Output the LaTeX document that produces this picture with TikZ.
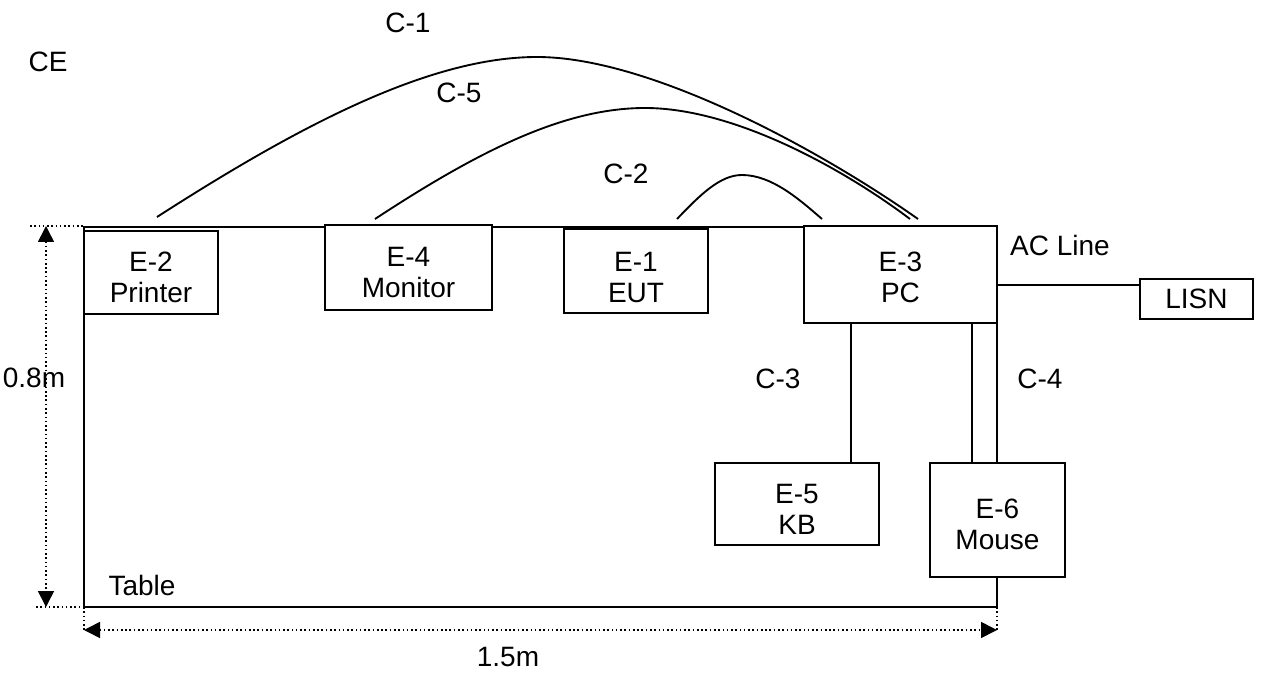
\documentclass[tikz,border=0pt]{standalone}
\usepackage{fontspec}
\setmainfont{Liberation Sans}
\usetikzlibrary{arrows.meta}
\begin{document}
\begin{tikzpicture}[x=0.75pt,y=-0.75pt,
  every node/.style={font=\fontsize{21}{23}\selectfont},
  ln/.style={line width=1.4pt},
  bx/.style 2 args={draw, line width=1.4pt, fill=white,
    minimum width=#1*0.75pt, minimum height=#2*0.75pt, inner sep=0pt},
  tx/.style={align=center, inner sep=0pt},
  lbl/.style={inner sep=0pt},
  dim/.style={dotted, line width=1.2pt},
  dimarrow/.style={dotted, line width=1.2pt,
    {Triangle[length=12pt,width=12pt]}-{Triangle[length=12pt,width=12pt]}}]
\useasboundingbox (0,0) rectangle (1266,673);

% table outline
\draw[ln] (84,227) rectangle (997,607);

% equipment boxes
\node[bx={134}{83}]  (prn)  at (151,272.5) {};
\node[bx={167}{85}]  (mon)  at (408.5,267.5) {};
\node[bx={144}{84}]  (eut)  at (636,271) {};
\node[bx={193}{97}]  (pc)   at (900.5,274.5) {};
\node[bx={113}{40}]  (lisn) at (1196.5,299) {LISN};
\node[bx={164}{82}]  (kb)   at (797,504) {};
\node[bx={135}{114}] (ms)   at (997.5,520) {};
\draw[ln] (997,577) -- (997,607);

% equipment names
\node[tx] (prnt) at (151,277.5) {E-2\\Printer};
\node[tx] (mont) at (408.5,272.5) {E-4\\Monitor};
\node[tx] (eutt) at (636,277.5) {E-1\\EUT};
\node[tx] (pct)  at (900.5,277.5) {E-3\\PC};
\node[tx] (kbt)  at (797,509.5) {E-5\\KB};
\node[tx] (mst)  at (997.5,524.5) {E-6\\Mouse};

% cable end points above the table
\coordinate (c1a) at (157,217);
\coordinate (c1b) at (918,219);
\coordinate (c5a) at (375,219);
\coordinate (c5b) at (910,219);
\coordinate (c2a) at (677,219);
\coordinate (c2b) at (822,219);

% cables
\draw[ln] (c1a) .. controls (300,125) and (430,57) .. (537,57)
                .. controls (650,57) and (820,150) .. (c1b);
\draw[ln] (c5a) .. controls (480,150) and (565,108) .. (645,108)
                .. controls (735,108) and (845,170) .. (c5b);
\draw[ln] (c2a) .. controls (700,195) and (720,175) .. (742,175)
                .. controls (772,175) and (800,200) .. (c2b);
\draw[ln] (pc.east |- 0,285) -- (lisn.west |- 0,285);
\draw[ln] (851,0 |- pc.south) -- (851,0 |- kb.north);
\draw[ln] (972,0 |- pc.south) -- (972,0 |- ms.north);

% labels
\node[lbl] (ce)   at (48,62)    {CE};
\node[lbl] (lc1)  at (408,23)   {C-1};
\node[lbl] (lc5)  at (459,93)   {C-5};
\node[lbl] (lc2)  at (626,174)  {C-2};
\node[lbl] (lac)  at (1060,245) {AC Line};
\node[lbl] (lc3)  at (778,379)  {C-3};
\node[lbl] (lc4)  at (1040,379) {C-4};
\node[lbl] (ltab) at (142,585)  {Table};

% dimensions
\coordinate (h1) at (46,226);
\coordinate (h2) at (46,607);
\draw[dim] (30,226) -- (84,226);
\draw[dim] (36,607) -- (105,607);
\draw[dimarrow] (h1) -- (h2);
\node[lbl] (d08) at (34,378) {0.8m};
\coordinate (w1) at (84,630);
\coordinate (w2) at (997,630);
\draw[dim] (84,607) -- (w1);
\draw[dim] (997,607) -- (w2);
\draw[dimarrow] (w1) -- (w2);
\node[lbl] (d15) at (508,657) {1.5m};
\end{tikzpicture}
\end{document}
